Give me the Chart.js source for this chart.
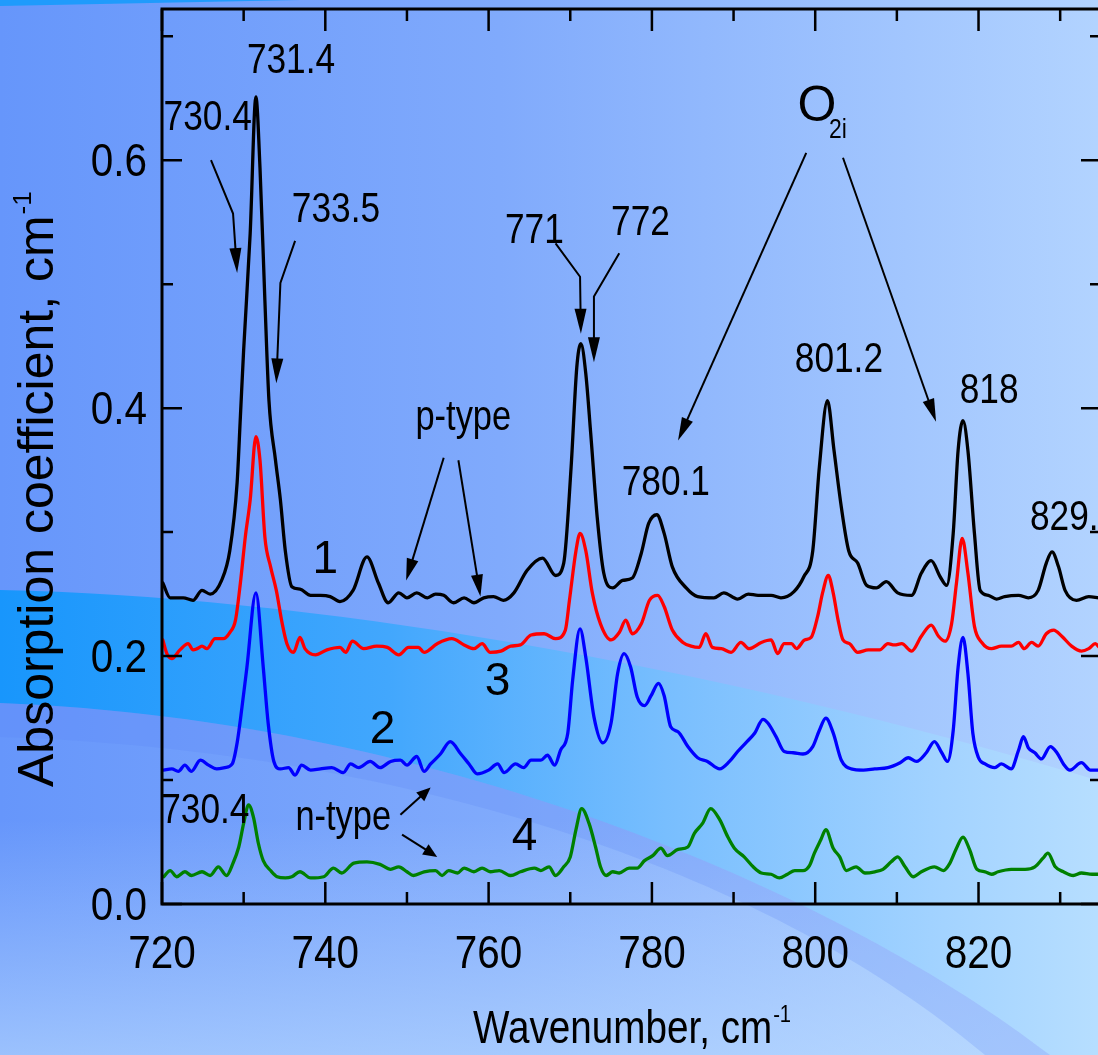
<!DOCTYPE html>
<html>
<head>
<meta charset="utf-8">
<script src="https://cdn.jsdelivr.net/npm/chart.js@4.4.0/dist/chart.umd.min.js"></script>
<style>
  html, body { margin: 0; padding: 0; overflow: hidden; background: #86b0fc; }
  #wrap { width: 1110px; height: 1055px; position: relative; }
</style>
</head>
<body>
<div id="wrap"><canvas id="chartIR"></canvas></div>
<script>
// ---- curve 1 (black) ----
const wn1 = [720.1,721,722.6,723.8,724.9,725.9,727.3,728.3,729.2,729.6,730.0,730.8,731.5,732.0,732.6,733.1,733.9,734.5,735.1,735.9,736.9,738.2,739.4,740.6,741.8,743.4,745.1,746.5,747.7,749.0,750.0,751.2,752.5,753.5,754.5,755.7,757.0,758.2,759.4,760.6,761.8,763.1,764.7,766.6,768.2,769.2,770.1,770.8,771.3,771.9,772.5,773.3,774.1,775.2,776.4,777.6,778.7,779.6,780.6,781.5,782.5,784.2,785.6,787.6,788.8,790.5,791.8,793.0,794.6,795.8,797.4,798.6,799.7,800.5,801.5,802.3,803.2,804.1,805.2,806.3,807.5,808.7,810.1,811.8,813.0,814.2,815.3,816.1,816.9,817.5,818.1,818.7,819.5,820.2,821.2,822.2,823.2,824.9,826.1,827.3,828.3,829.0,829.8,830.6,832.0,833.5,834.7];
const ab1 = [0.259,0.247,0.247,0.245,0.253,0.250,0.261,0.285,0.340,0.393,0.447,0.541,0.651,0.594,0.487,0.406,0.358,0.326,0.285,0.256,0.254,0.249,0.249,0.248,0.244,0.253,0.280,0.259,0.243,0.251,0.247,0.251,0.247,0.250,0.249,0.243,0.247,0.243,0.247,0.248,0.245,0.251,0.269,0.279,0.265,0.275,0.352,0.433,0.452,0.428,0.380,0.312,0.267,0.255,0.261,0.263,0.283,0.307,0.314,0.299,0.272,0.255,0.248,0.247,0.251,0.246,0.250,0.249,0.249,0.247,0.252,0.264,0.285,0.352,0.406,0.366,0.320,0.285,0.275,0.257,0.255,0.260,0.251,0.249,0.267,0.277,0.264,0.257,0.299,0.366,0.390,0.366,0.299,0.253,0.249,0.246,0.248,0.249,0.247,0.253,0.275,0.284,0.272,0.253,0.245,0.248,0.247];

// ---- curve 3 (red) ----
const wn3 = [720.1,720.6,721.2,722.2,723.2,723.8,724.3,724.9,725.5,726.5,727.5,728.3,729.0,729.6,730.2,730.8,731.5,732.0,732.6,733.3,734.0,734.7,735.3,736.1,736.9,737.5,738.8,740.2,741.8,742.5,743.3,744.7,746.3,747.6,749.0,750.2,751.4,752.1,753.7,755.5,757.0,758.2,759.2,760.2,761.5,762.7,763.9,765.2,766.8,768.2,769.4,769.9,770.7,771.2,771.9,772.7,773.7,775.0,776.0,776.8,777.6,778.7,779.7,780.7,781.5,782.5,783.8,784.8,785.8,786.6,787.4,788.5,789.7,790.9,791.9,793.4,794.6,795.4,796.2,797.1,797.7,798.7,799.5,800.3,800.9,801.6,802.2,802.8,803.4,804.2,805.2,806.5,807.9,808.9,809.7,810.6,811.8,813.0,814.2,815.1,815.9,816.7,817.3,818.0,818.7,819.5,820.4,821.6,822.8,824.0,824.9,825.6,826.5,827.3,828.3,829.2,830.2,831.4,832.6,833.5,834.3,834.8];
const ab3 = [0.213,0.202,0.198,0.205,0.210,0.205,0.206,0.208,0.206,0.214,0.214,0.219,0.229,0.259,0.296,0.326,0.377,0.358,0.296,0.272,0.253,0.227,0.210,0.203,0.215,0.206,0.201,0.205,0.207,0.203,0.212,0.206,0.208,0.207,0.201,0.207,0.207,0.203,0.210,0.214,0.209,0.206,0.210,0.203,0.204,0.208,0.209,0.217,0.218,0.214,0.221,0.245,0.285,0.299,0.285,0.251,0.226,0.213,0.219,0.229,0.218,0.226,0.245,0.249,0.240,0.221,0.211,0.208,0.207,0.218,0.207,0.206,0.203,0.211,0.206,0.211,0.213,0.202,0.210,0.210,0.206,0.213,0.215,0.232,0.251,0.265,0.251,0.229,0.213,0.210,0.203,0.205,0.205,0.210,0.209,0.210,0.204,0.216,0.225,0.216,0.212,0.226,0.259,0.295,0.267,0.224,0.211,0.206,0.208,0.208,0.211,0.206,0.211,0.208,0.218,0.221,0.216,0.208,0.204,0.206,0.210,0.207];

// ---- curve 2 (blue) ----
const wn2 = [720.2,721.2,722.0,722.8,723.6,724.7,725.7,726.7,727.7,728.6,729.2,729.8,730.4,731.5,732.4,733.0,733.7,734.5,735.5,736.3,737.1,738.2,739.4,740.8,742.2,743.1,744.1,745.5,746.7,748.0,749.2,750.0,751.2,752.1,752.9,754.1,755.3,756.6,757.6,758.6,760.0,761.1,761.9,763.3,764.3,765.2,766.4,767.2,768.1,768.8,769.7,770.3,771.2,771.9,772.9,774.0,775.0,775.8,776.6,777.4,778.2,779.1,779.9,780.8,781.5,782.3,783.2,784.4,785.6,786.8,788.3,789.5,790.5,791.5,792.6,793.6,794.2,795.2,796.2,797.3,798.5,799.7,800.5,801.3,802.2,803.2,804.4,805.9,807.3,808.9,810.4,811.4,812.4,813.6,814.6,815.5,816.2,816.9,817.5,818.1,818.7,819.3,820.0,820.8,822.0,822.8,824.0,824.9,825.5,826.1,826.9,827.7,828.8,829.6,830.4,831.2,832.6,833.7,834.7];
const ab2 = [0.108,0.109,0.107,0.112,0.107,0.116,0.112,0.109,0.110,0.113,0.130,0.159,0.191,0.251,0.191,0.146,0.115,0.109,0.110,0.104,0.112,0.108,0.109,0.110,0.106,0.113,0.110,0.115,0.110,0.115,0.116,0.112,0.119,0.107,0.113,0.121,0.131,0.121,0.113,0.105,0.108,0.113,0.106,0.113,0.110,0.116,0.116,0.120,0.112,0.124,0.138,0.181,0.222,0.199,0.151,0.130,0.146,0.186,0.202,0.191,0.167,0.160,0.168,0.178,0.168,0.143,0.139,0.127,0.118,0.115,0.109,0.115,0.123,0.130,0.138,0.149,0.146,0.135,0.123,0.122,0.121,0.127,0.140,0.150,0.138,0.116,0.109,0.108,0.109,0.110,0.114,0.118,0.115,0.122,0.131,0.122,0.115,0.140,0.191,0.215,0.186,0.138,0.118,0.113,0.110,0.113,0.109,0.124,0.135,0.126,0.122,0.117,0.127,0.122,0.113,0.108,0.114,0.108,0.108];

// ---- curve 4 (green) ----
const wn4 = [720.2,721.0,721.8,722.8,723.6,724.9,725.9,726.9,727.9,728.7,729.4,730.0,730.6,731.2,731.8,732.4,733.3,734.1,735.1,735.9,736.9,738.2,739.8,741.0,742.0,743.5,745.1,746.7,748.0,749.0,750.0,750.8,752.1,753.5,754.3,755.1,756.2,757.0,758.2,759.2,760.2,761.3,762.7,763.9,765.6,766.4,767.4,768.2,769.2,770.0,770.7,771.4,772.3,773.1,773.7,774.4,775.2,776.0,777.2,778.2,779.1,780.1,781.1,781.9,783.2,784.4,785.2,786.2,787.2,788.3,789.3,790.1,791.3,792.4,793.4,794.6,795.6,796.6,797.5,798.5,799.3,799.9,800.7,801.3,802.2,803.0,803.8,805.0,806.1,807.3,808.3,809.3,810.1,811.0,812.0,813.0,814.6,815.7,816.5,817.3,818.1,818.9,819.8,820.8,821.6,822.4,824.0,825.7,826.9,827.9,828.5,829.4,830.4,831.6,832.6,833.9,834.8];
const ab4 = [0.022,0.027,0.022,0.026,0.023,0.026,0.023,0.030,0.023,0.033,0.046,0.065,0.080,0.070,0.049,0.035,0.027,0.022,0.021,0.022,0.026,0.021,0.022,0.029,0.025,0.033,0.034,0.032,0.028,0.030,0.026,0.023,0.026,0.027,0.023,0.027,0.025,0.029,0.026,0.029,0.026,0.027,0.023,0.026,0.029,0.027,0.030,0.023,0.030,0.038,0.060,0.077,0.065,0.046,0.030,0.023,0.026,0.025,0.029,0.029,0.035,0.039,0.045,0.039,0.044,0.046,0.057,0.065,0.077,0.068,0.054,0.045,0.038,0.030,0.025,0.024,0.021,0.024,0.027,0.027,0.031,0.041,0.052,0.060,0.045,0.038,0.027,0.030,0.025,0.026,0.028,0.034,0.038,0.030,0.022,0.026,0.030,0.027,0.033,0.045,0.054,0.044,0.028,0.026,0.024,0.026,0.028,0.028,0.030,0.037,0.041,0.030,0.026,0.023,0.025,0.024,0.024];

// axis ticks (every other one gets a label)
const xTicks = [720,730,740,750,760,770,780,790,800,810,820,830];
const yTicks = [0,0.1,0.2,0.3,0.4,0.5,0.6,0.7];

const FONT = "'Liberation Sans', Arial, sans-serif";
const SQUEEZE = 0.82;   // the original lettering is condensed

// peak labels, placed in data units
const labels = [
  { t: '731.4', x: 735.8, y: 0.670, f: 43 },
  { t: '730.4', x: 725.6, y: 0.624, f: 43 },
  { t: '733.5', x: 741.3, y: 0.550, f: 43 },
  { t: '771', x: 765.6, y: 0.533, f: 43 },
  { t: '772', x: 778.6, y: 0.540, f: 43 },
  { t: 'p-type', x: 756.9, y: 0.382, f: 42 },
  { t: '780.1', x: 781.7, y: 0.330, f: 43 },
  { t: '801.2', x: 802.9, y: 0.429, f: 43 },
  { t: '818', x: 821.3, y: 0.404, f: 43 },
  { t: '829.', x: 826.3, y: 0.302, f: 43, align: 'left' },
  { t: '1', x: 740.0, y: 0.267, f: 46, sq: 1 },
  { t: '3', x: 761.1, y: 0.169, f: 46, sq: 1 },
  { t: '2', x: 747.0, y: 0.130, f: 46, sq: 1 },
  { t: '4', x: 764.4, y: 0.0435, f: 46, sq: 1 },
  { t: '730.4', x: 725.3, y: 0.065, f: 43 },
  { t: 'n-type', x: 742.2, y: 0.060, f: 42 }
];

const arrows = [
  { p: [[726.0,0.600],[728.7,0.557],[729.2,0.509]], len: 25, w: 6 },
  { p: [[736.3,0.535],[734.5,0.501],[734.0,0.420]], len: 25, w: 6 },
  { p: [[768.2,0.533],[771.2,0.506],[771.3,0.460]], len: 25, w: 6 },
  { p: [[776.0,0.525],[772.9,0.490],[772.9,0.437]], len: 25, w: 6 },
  { p: [[754.5,0.360],[749.9,0.261]], len: 22, w: 6 },
  { p: [[756.3,0.358],[759.0,0.248]], len: 22, w: 6 },
  { p: [[798.9,0.606],[783.2,0.374]], len: 23, w: 6 },
  { p: [[803.4,0.602],[814.8,0.389]], len: 23, w: 6 },
  { p: [[749.2,0.072],[752.9,0.094]], len: 14, w: 6 },
  { p: [[749.4,0.056],[753.7,0.038]], len: 14, w: 6 }
];

function pts(xs, ys) {
  return xs.map((v, i) => ({ x: v, y: ys[i] }));
}

// text squeezed horizontally
function sqText(c, txt, x, y, size, align, sq) {
  c.save();
  c.translate(x, y);
  c.scale(sq, 1);
  c.font = size + 'px ' + FONT;
  c.textAlign = align;
  c.fillText(txt, 0, 0);
  c.restore();
}

const background = {
  id: 'background',
  beforeDraw(chart) {
    const c = chart.ctx, w = chart.width, h = chart.height;
    c.save();
    let g = c.createLinearGradient(0, 0, w, 0);
    g.addColorStop(0, '#6696fb');
    g.addColorStop(0.45, '#80aafc');
    g.addColorStop(1, '#b3d4ff');
    c.fillStyle = g;
    c.fillRect(0, 0, w, h);

    g = c.createLinearGradient(0, 820, 0, h);
    g.addColorStop(0, 'rgba(190,220,255,0)');
    g.addColorStop(1, 'rgba(190,222,255,0.6)');
    c.fillStyle = g;
    c.fillRect(0, 820, w, h - 820);

    // thin bright strip at the top
    c.fillStyle = '#1f9bfc';
    c.beginPath();
    c.moveTo(0, 0); c.lineTo(300, 0); c.quadraticCurveTo(150, 3, 0, 6); c.closePath();
    c.fill();

    // bright curved band
    c.beginPath();
    c.moveTo(0, 590);
    c.bezierCurveTo(300, 596, 700, 660, w, 784);
    c.lineTo(w, h);
    c.lineTo(1050, h);
    c.bezierCurveTo(850, 900, 450, 720, 0, 703);
    c.closePath();
    g = c.createLinearGradient(0, 0, w, 0);
    g.addColorStop(0, '#1896fc');
    g.addColorStop(0.35, '#42a7fd');
    g.addColorStop(0.6, '#78befe');
    g.addColorStop(0.85, '#a3d3ff');
    g.addColorStop(1, '#b8dfff');
    c.fillStyle = g;
    c.fill();

    // faint darker stripe under the band
    c.beginPath();
    c.moveTo(0, 703);
    c.bezierCurveTo(450, 720, 850, 900, 1050, h);
    c.lineTo(985, h);
    c.bezierCurveTo(780, 880, 420, 750, 0, 737);
    c.closePath();
    c.fillStyle = 'rgba(90,130,245,0.22)';
    c.fill();
    c.restore();
  }
};

function arrowHead(c, x0, y0, x1, y1, len, w) {
  const a = Math.atan2(y1 - y0, x1 - x0);
  c.beginPath();
  c.moveTo(x1, y1);
  c.lineTo(x1 - len * Math.cos(a) + w * Math.sin(a), y1 - len * Math.sin(a) - w * Math.cos(a));
  c.lineTo(x1 - len * Math.cos(a) - w * Math.sin(a), y1 - len * Math.sin(a) + w * Math.cos(a));
  c.closePath();
  c.fill();
}

const frame = {
  id: 'frame',
  afterDatasetsDraw(chart) {
    const c = chart.ctx, a = chart.chartArea;
    const sx = chart.scales.x, sy = chart.scales.y;
    c.save();
    c.strokeStyle = '#000';
    c.fillStyle = '#000';
    c.lineWidth = 3;
    c.strokeRect(a.left, a.top, a.right - a.left, a.bottom - a.top);

    // inward ticks on all four sides
    c.lineWidth = 2.5;
    c.beginPath();
    xTicks.forEach(v => {
      const px = sx.getPixelForValue(v), len = v % 20 === 0 ? 22 : 12;
      c.moveTo(px, a.bottom); c.lineTo(px, a.bottom - len);
      c.moveTo(px, a.top); c.lineTo(px, a.top + len);
    });
    yTicks.forEach((v, i) => {
      const py = sy.getPixelForValue(v), len = i % 2 === 0 ? 20 : 11;
      c.moveTo(a.left, py); c.lineTo(a.left + len, py);
      c.moveTo(a.right, py); c.lineTo(a.right - len, py);
    });
    c.stroke();

    // tick labels from the scales' own ticks
    c.textBaseline = 'alphabetic';
    sx.ticks.forEach(t => {
      sqText(c, String(t.value), sx.getPixelForValue(t.value), a.bottom + 64, 46, 'center', 0.88);
    });
    sy.ticks.forEach(t => {
      sqText(c, t.value.toFixed(1), a.left - 15, sy.getPixelForValue(t.value) + 16, 46, 'right', 0.88);
    });

    // arrows
    c.lineWidth = 2;
    arrows.forEach(ar => {
      const q = ar.p.map(p => [sx.getPixelForValue(p[0]), sy.getPixelForValue(p[1])]);
      const n = q.length;
      const last = q[n - 1], prev = q[n - 2];
      const ang = Math.atan2(last[1] - prev[1], last[0] - prev[0]);
      c.beginPath();
      c.moveTo(q[0][0], q[0][1]);
      for (let i = 1; i < n - 1; i++) c.lineTo(q[i][0], q[i][1]);
      c.lineTo(last[0] - (ar.len - 2) * Math.cos(ang), last[1] - (ar.len - 2) * Math.sin(ang));
      c.stroke();
      arrowHead(c, prev[0], prev[1], last[0], last[1], ar.len, ar.w);
    });

    // peak labels
    labels.forEach(l => {
      sqText(c, l.t, sx.getPixelForValue(l.x), sy.getPixelForValue(l.y), l.f, l.align || 'center', l.sq || SQUEEZE);
    });

    // O2i
    sqText(c, 'O', sx.getPixelForValue(800.2), sy.getPixelForValue(0.632), 50, 'center', 1);
    sqText(c, '2i', sx.getPixelForValue(801.7), sy.getPixelForValue(0.618), 27, 'left', 0.85);

    // x axis title with superscript
    c.font = '46px ' + FONT;
    const t1 = 'Wavenumber, cm';
    const w1 = c.measureText(t1).width * 0.84;
    c.font = '24px ' + FONT;
    const w2 = c.measureText('-1').width * 0.84;
    const x0 = (a.left + a.right) / 2 - (w1 + w2) / 2;
    sqText(c, t1, x0, a.bottom + 139, 46, 'left', 0.84);
    sqText(c, '-1', x0 + w1 + 1, a.bottom + 118, 24, 'left', 0.84);

    // y axis title, rotated
    c.save();
    c.translate(53, a.bottom - 117);
    c.rotate(-Math.PI / 2);
    c.font = '50px ' + FONT;
    c.textAlign = 'left';
    const t2 = 'Absorption coefficient, cm';
    const w3 = c.measureText(t2).width;
    c.fillText(t2, 0, 0);
    c.font = '26px ' + FONT;
    c.fillText('-1', w3 + 1, -22);
    c.restore();

    c.restore();
  }
};

const ctx = document.getElementById('chartIR');
new Chart(ctx, {
  type: 'line',
  data: {
    datasets: [
      { label: '1', data: pts(wn1, ab1), borderColor: '#000000' },
      { label: '3', data: pts(wn3, ab3), borderColor: '#ff0000' },
      { label: '2', data: pts(wn2, ab2), borderColor: '#0000ff' },
      { label: '4', data: pts(wn4, ab4), borderColor: '#008000' }
    ]
  },
  options: {
    responsive: true,
    maintainAspectRatio: false,
    animation: false,
    layout: { padding: { top: 9, right: 9, left: 0, bottom: 0 } },
    plugins: { legend: { display: false }, tooltip: { enabled: false } },
    elements: {
      point: { radius: 0 },
      line: { borderWidth: 3.3, cubicInterpolationMode: 'monotone', borderJoinStyle: 'round', borderCapStyle: 'round' }
    },
    scales: {
      x: {
        type: 'linear', min: 720, max: 835,
        grid: { display: false, drawTicks: false }, border: { display: false },
        ticks: { display: false, stepSize: 20, includeBounds: false },
        afterFit: s => { s.height = 151; s.paddingLeft = 0; s.paddingRight = 0; }
      },
      y: {
        min: 0, max: 0.722,
        grid: { display: false, drawTicks: false }, border: { display: false },
        ticks: { display: false, stepSize: 0.2, includeBounds: false },
        afterFit: s => { s.width = 162; s.paddingTop = 0; s.paddingBottom = 0; }
      }
    }
  },
  plugins: [background, frame]
});
</script>
</body>
</html>
